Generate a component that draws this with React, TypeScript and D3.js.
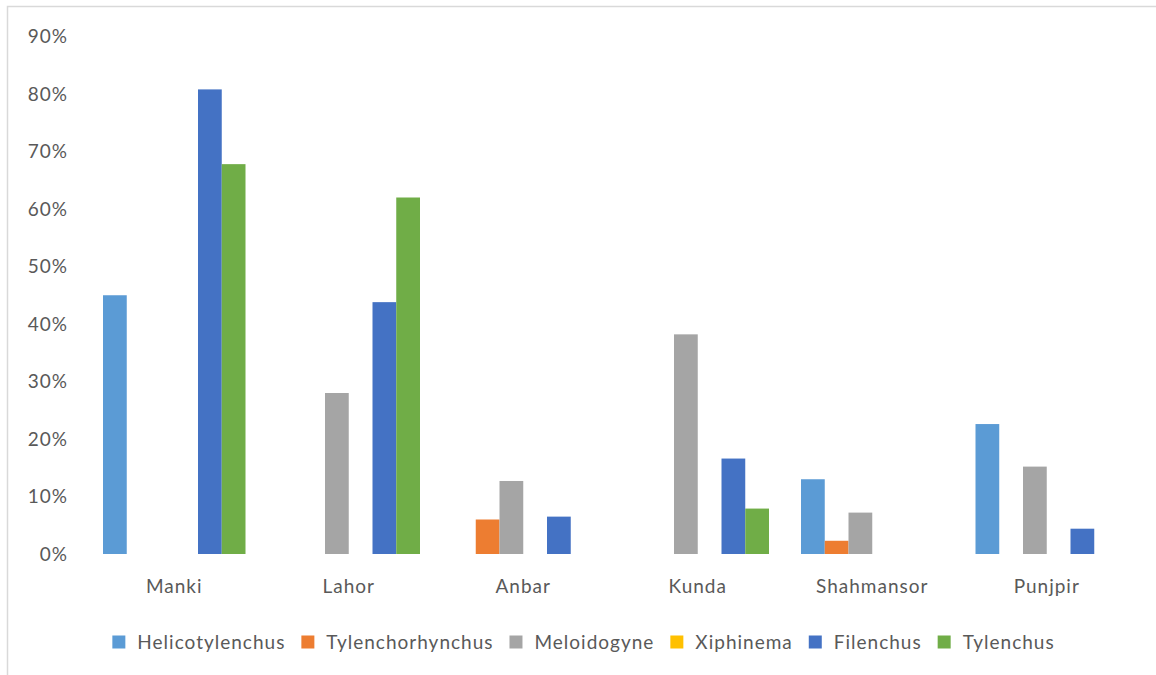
import React, { useEffect, useRef } from 'react';
import * as d3 from 'd3';

// Sitios de muestreo
const sites = ['Manki', 'Lahor', 'Anbar', 'Kunda', 'Shahmansor', 'Punjpir'];

// Géneros de nematodos (series)
const genera = ['Helicotylenchus', 'Tylenchorhynchus', 'Meloidogyne', 'Xiphinema', 'Filenchus', 'Tylenchus'];
const generaColors = ['#5B9BD5', '#ED7D31', '#A5A5A5', '#FFC000', '#4472C4', '#70AD47'];

// Valores (%) por género, en el orden de sites
const helicotylenchus = [45, 0, 0, 0, 13, 22.6];
const tylenchorhynchus = [0, 0, 6, 0, 2.3, 0];
const meloidogyne = [0, 28, 12.7, 38.2, 7.2, 15.2];
const xiphinema = [0, 0, 0, 0, 0, 0];
const filenchus = [80.8, 43.8, 6.5, 16.6, 0, 4.4];
const tylenchus = [67.8, 62, 0, 7.9, 0, 0];

const seriesValues = [helicotylenchus, tylenchorhynchus, meloidogyne, xiphinema, filenchus, tylenchus];
const yTicks = [0, 10, 20, 30, 40, 50, 60, 70, 80, 90];

const FONT = 'Lato, "Open Sans", sans-serif';
const FONT_SIZE = '19px';
const SPACING = '1px';
const TEXT = '#595959';

const BarChart = () => {
  const svgRef = useRef<SVGSVGElement>(null);
  const width = 1156;
  const height = 675;
  const plot = { left: 87, right: 1134, top: 36.5, bottom: 554 };

  useEffect(() => {
    const svg = d3.select(svgRef.current);
    svg.selectAll('*').remove();
    svg.attr('width', width).attr('height', height);

    // Marco del gráfico
    svg.append('path')
      .attr('d', `M7.5,${height} V6.5 H${width}`)
      .attr('fill', 'none')
      .attr('stroke', '#d9d9d9')
      .attr('stroke-width', 1.5);

    const x0 = d3.scaleBand<string>()
      .domain(sites)
      .range([plot.left, plot.right])
      .paddingInner(32 / 174.5)
      .paddingOuter(16 / 174.5);

    const x1 = d3.scaleBand<string>()
      .domain(genera)
      .range([0, x0.bandwidth()]);

    const y = d3.scaleLinear()
      .domain([0, 90])
      .range([plot.bottom, plot.top]);

    const styleText = (sel: any) => sel
      .attr('fill', TEXT)
      .style('font-family', FONT)
      .style('font-size', FONT_SIZE)
      .style('letter-spacing', SPACING);

    // Etiquetas del eje Y
    svg.append('g')
      .selectAll('text')
      .data(yTicks)
      .enter()
      .append('text')
      .attr('x', 68)
      .attr('y', d => y(d))
      .attr('dy', '0.35em')
      .attr('text-anchor', 'end')
      .call(styleText)
      .text(d => `${d}%`);

    // Barras
    const groups = svg.append('g')
      .selectAll('g')
      .data(sites)
      .enter()
      .append('g')
      .attr('transform', d => `translate(${x0(d)},0)`);

    groups.selectAll('rect')
      .data((site, i) => genera.map((g, j) => ({ genus: g, value: seriesValues[j][i], color: generaColors[j] })))
      .enter()
      .filter(d => d.value > 0)
      .append('rect')
      .attr('x', d => x1(d.genus) as number)
      .attr('width', x1.bandwidth())
      .attr('y', d => y(d.value))
      .attr('height', d => y(0) - y(d.value))
      .attr('fill', d => d.color);

    // Etiquetas del eje X
    svg.append('g')
      .selectAll('text')
      .data(sites)
      .enter()
      .append('text')
      .attr('x', d => (x0(d) as number) + x0.bandwidth() / 2)
      .attr('y', 593)
      .attr('text-anchor', 'middle')
      .call(styleText)
      .text(d => d);

    // Leyenda centrada
    const legend = svg.append('g');
    const items = legend.selectAll('g')
      .data(genera)
      .enter()
      .append('g');
    items.append('rect')
      .attr('width', 13)
      .attr('height', 13)
      .attr('y', -6.5)
      .attr('fill', (d, i) => generaColors[i]);
    const labels = items.append('text')
      .attr('x', 25)
      .attr('dy', '0.35em')
      .call(styleText)
      .text(d => d);

    let offset = 0;
    const offsets: number[] = [];
    labels.each(function () {
      offsets.push(offset);
      offset += 25 + (this as SVGTextElement).getComputedTextLength() + 16;
    });
    const total = offset - 16;
    const startX = 583.5 - total / 2;
    items.attr('transform', (d, i) => `translate(${startX + offsets[i]},642)`);
  }, []);

  return <svg ref={svgRef} style={{ display: 'block' }} />;
};

export default function App() {
  return (
    <div style={{ position: 'absolute', left: 0, top: 0, width: 1156, height: 675, background: '#fff' }}>
      <BarChart />
    </div>
  );
}
